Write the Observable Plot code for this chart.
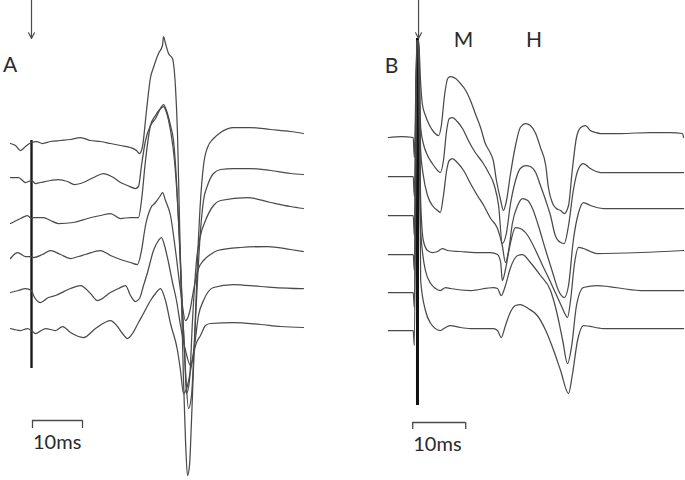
<!DOCTYPE html>
<html><head><meta charset="utf-8">
<script src="https://cdn.jsdelivr.net/npm/d3@7"></script>
<script src="https://cdn.jsdelivr.net/npm/@observablehq/plot@0.6"></script>
<style>
body{margin:0;background:#fff;}
#wrap{display:flex;width:685px;height:480px;overflow:hidden;}
svg{display:block;}
</style></head><body><div id="wrap"></div>
<script>
// ---- Panel A traces: [time (ms after stimulus), deflection (mV)] ----
const A1 = [[-4.2,0],[-3.2,-0.02],[-2.2,-0.07],[-1.2,-0.03],[0,0.01],[1,0.02],[2.2,0],[3.8,0.02],[5.8,0.03],[7.8,0.04],[9.8,0.06],[11.8,0.03],[13.8,0.02],[15.8,0],[17.8,-0.02],[19.8,-0.04],[21,-0.07],[21.6,-0.10],[22.2,-0.03],[23,0.33],[23.8,0.66],[24.4,0.76],[25.4,0.90],[26.2,0.98],[26.4,1.07],[26.8,1.00],[27.4,0.90],[28.2,0.85],[28.4,0.80],[28.8,0.56],[29.2,0.10],[29.6,-0.77],[30,-1.57],[30.4,-2.37],[30.8,-2.97],[31.2,-3.32],[31.6,-3.22],[32,-2.77],[32.6,-1.97],[33.2,-1.17],[33.8,-0.57],[34.4,-0.22],[35.2,-0.04],[36.4,0.05],[37.8,0.11],[40.4,0.16],[43.8,0.16],[47.8,0.14],[51.8,0.12],[54.4,0.10]];
const A2 = [[-4.2,0.03],[-2.6,0.03],[-1.2,-0.02],[0,0],[0.8,-0.03],[1.8,-0.02],[3.8,0],[5.4,0.01],[7.2,-0.01],[8.6,-0.04],[9.8,-0.03],[12.4,0.03],[14.4,0.07],[16.4,0.03],[17.8,-0.02],[19.2,-0.05],[20.8,-0.08],[21.4,-0.06],[22,0.15],[22.8,0.40],[23.8,0.55],[24.8,0.62],[25.8,0.72],[26.4,0.76],[27,0.70],[27.8,0.55],[28.4,0.40],[29,0],[29.6,-0.60],[30.2,-1.30],[30.8,-1.90],[31.4,-2.28],[32,-2.15],[32.6,-1.60],[33.2,-1.00],[33.8,-0.50],[34.4,-0.20],[35.2,-0.05],[36.4,0.07],[37.8,0.11],[40.4,0.12],[43.8,0.12],[47.8,0.10],[51.8,0.07],[54.4,0.06]];
const A3 = [[-4.2,-0.06],[-2.2,-0.01],[-0.8,0.02],[0,-0.01],[0.4,0],[2.4,0],[3.8,-0.03],[5.4,-0.06],[8.4,-0.05],[11.2,-0.01],[13.8,0.02],[15.8,0.04],[17.8,-0.01],[19.8,0],[21.4,0],[22,0.17],[22.8,0.57],[23.8,0.92],[24.8,1.02],[25.8,1.09],[26.4,1.11],[27,1.05],[27.8,0.87],[28.6,0.57],[29.4,-0.03],[30,-0.73],[30.6,-1.33],[31,-1.76],[31.6,-1.63],[32.2,-1.03],[33,-0.43],[33.8,-0.18],[34.8,-0.03],[36.4,0.12],[37.8,0.17],[43.2,0.20],[47.8,0.15],[51.8,0.11],[54.4,0.09]];
const A4 = [[-4.2,-0.05],[-2.8,0.01],[-1.2,-0.03],[0,-0.03],[0.4,-0.04],[2.2,-0.01],[3.8,0.03],[5.8,-0.01],[7.8,-0.05],[9.4,-0.03],[10.8,-0.01],[13.8,0.03],[15.8,-0.02],[17.8,-0.06],[19.8,-0.09],[21.2,-0.11],[22,0.03],[22.8,0.28],[23.8,0.45],[24.8,0.51],[25.8,0.58],[26.2,0.61],[26.8,0.53],[27.8,0.38],[28.8,0.03],[29.8,-0.37],[30.8,-0.67],[31.6,-0.59],[32.4,-0.37],[33.4,-0.15],[34.4,-0.07],[35.8,-0.01],[37.2,0.03],[41.8,0.06],[47.2,0.07],[51.8,0.04],[54.4,0.02]];
const A5 = [[-4.2,-0.02],[-2.6,0],[-1.2,0.02],[0,0],[0.4,-0.05],[1.8,-0.12],[3.4,-0.07],[4.8,-0.05],[7.8,0.02],[9.8,0.05],[11.8,-0.03],[13.2,-0.10],[15.8,-0.02],[17.4,0.02],[18.8,0.05],[19.8,-0.05],[20.8,-0.11],[21.6,-0.08],[22.4,0.05],[23.2,0.18],[24.4,0.40],[25.4,0.50],[26,0.53],[26.6,0.45],[27.4,0.28],[28.2,0.08],[29,-0.10],[29.8,-0.35],[30.8,-0.60],[31.8,-0.75],[32.6,-0.55],[33.4,-0.25],[34.4,-0.10],[36.4,0.03],[40.4,0.06],[45.8,0.04],[53.8,0.02],[54.4,0.02]];
const A6 = [[-4.2,-0.01],[-2.2,-0.03],[-0.8,-0.01],[0,-0.03],[0.8,-0.06],[2.8,-0.01],[4.8,-0.03],[6.2,0.01],[7.8,-0.05],[10.4,-0.10],[12.8,-0.01],[15.8,0.07],[17.2,0.01],[18.2,-0.06],[19.2,-0.11],[20.2,-0.06],[21.4,0.05],[22.4,0.14],[23.8,0.27],[24.8,0.34],[25.8,0.39],[26.8,0.27],[27.8,0.04],[29.2,-0.23],[29.8,-0.43],[30.4,-0.66],[31.2,-0.58],[32,-0.38],[32.8,-0.18],[33.8,-0.08],[34.8,0.02],[35.8,0.04],[40.4,0.05],[45.8,0.03],[49.8,0.01],[54.4,0]];
const offsetsA = [0, -0.37, -0.74, -1.10, -1.47, -1.84];

// ---- Panel B traces ----
const B1 = [[-5.5,0],[-3,0.01],[-0.8,0],[-0.6,-0.2],[-0.1,0.97],[0.2,0.97],[0.6,0.54],[0.9,0.34],[1.5,0.22],[2.1,0.14],[3.0,0.06],[4.0,0.02],[4.5,0.12],[5.1,0.42],[5.7,0.59],[6.2,0.61],[7.2,0.59],[8.1,0.54],[9.1,0.47],[10.0,0.37],[10.9,0.24],[11.9,0.10],[12.8,-0.06],[13.8,-0.16],[14.3,-0.23],[14.9,-0.43],[15.7,-0.63],[16.2,-0.73],[16.8,-0.63],[17.5,-0.38],[18.5,-0.08],[19.4,0.10],[20.4,0.14],[21.3,0.12],[22.3,0.04],[23.2,-0.10],[24.2,-0.28],[24.7,-0.50],[25.5,-0.66],[26.2,-0.71],[27.0,-0.73],[27.7,-0.76],[28.5,-0.68],[29.2,-0.33],[30.0,0.00],[30.8,0.10],[31.7,0.12],[32.6,0.07],[33.6,0.05],[34.5,0.04],[38.3,0.04],[44.0,0.05],[47.7,0.05],[50.0,0.04],[50.2,0.0]];
const B2 = [[-5.5,0],[-3,0],[-0.8,0],[-0.6,-0.2],[-0.1,1.36],[0.2,1.36],[0.6,0.49],[1.1,0.33],[1.9,0.21],[2.8,0.13],[3.8,0.06],[4.3,0.04],[4.9,0.16],[5.5,0.46],[6.0,0.58],[6.6,0.59],[7.5,0.55],[8.5,0.48],[9.6,0.36],[10.9,0.24],[12.3,0.14],[13.4,0.04],[14.5,-0.09],[15.3,-0.29],[16.0,-0.67],[16.8,-0.56],[17.5,-0.29],[18.5,-0.04],[19.4,0.08],[20.4,0.11],[21.3,0.10],[22.3,0.04],[23.2,-0.09],[24.2,-0.24],[25.1,-0.39],[26.0,-0.59],[27.0,-0.66],[27.7,-0.67],[28.5,-0.49],[29.4,-0.14],[30.4,0.08],[31.3,0.13],[32.6,0.08],[34.5,0.04],[42.1,0.04],[50.2,0.04]];
const B3 = [[-5.5,0],[-3,0],[-0.8,0],[-0.6,-0.2],[-0.1,1.75],[0.2,1.75],[0.6,0.65],[1.1,0.40],[1.9,0.20],[2.8,0.10],[3.8,0.05],[4.3,0.03],[4.9,0.20],[5.5,0.45],[6.0,0.55],[6.6,0.57],[7.5,0.53],[8.7,0.45],[10.0,0.32],[11.3,0.20],[12.5,0.10],[13.8,-0.03],[15.1,-0.13],[16.0,-0.30],[16.6,-0.47],[17.2,-0.35],[17.9,-0.08],[18.9,0.10],[19.8,0.17],[20.8,0.15],[21.7,0.07],[22.8,-0.10],[24.2,-0.35],[25.5,-0.57],[26.6,-0.75],[27.7,-0.82],[28.5,-0.70],[29.4,-0.25],[30.4,0.03],[31.3,0.13],[32.6,0.10],[35.1,0.07],[50.2,0.07]];
const B4 = [[-5.5,0],[-3,0],[-0.8,0],[-0.6,-0.16],[-0.1,2.14],[0.2,2.14],[0.6,0.54],[1.1,0.14],[1.9,0.04],[2.8,0.02],[3.8,0.03],[4.7,0.06],[5.7,0.04],[8.1,0.03],[10.9,0.02],[13.8,0.02],[15.1,0.00],[15.7,-0.08],[16.0,-0.26],[16.6,-0.15],[17.4,0.08],[18.5,0.27],[19.4,0.26],[20.8,0.19],[22.3,0.04],[23.6,-0.11],[24.7,-0.23],[26.0,-0.38],[27.2,-0.52],[27.9,-0.60],[28.3,-0.63],[28.9,-0.45],[29.6,-0.10],[30.4,0.07],[31.3,0.06],[32.6,0.03],[33.8,0.01],[42.1,0.02],[50.2,0.04]];
const B5 = [[-5.5,0],[-3,0],[-0.8,0],[-0.6,-0.15],[-0.1,2.52],[0.2,2.52],[0.6,0.62],[1.5,0.22],[2.5,0.09],[3.4,0.04],[4.3,0.02],[5.3,0.05],[6.2,0.04],[10.0,0.02],[14.3,0.05],[15.1,0.04],[15.8,-0.03],[16.6,0.07],[17.5,0.24],[18.9,0.37],[19.8,0.38],[21.3,0.30],[23.2,0.17],[25.1,0.02],[26.2,-0.18],[27.4,-0.48],[28.3,-0.71],[29.1,-0.53],[30.0,-0.13],[31.3,0.05],[33.9,0.07],[42.1,0.02],[50.2,0.02]];
const B6 = [[-5.5,0],[-3,0],[-0.8,0],[-0.6,-0.15],[-0.1,2.90],[0.2,2.90],[0.6,0.50],[1.5,0.20],[2.5,0.07],[4.3,0.00],[5.3,0.03],[6.2,0.05],[8.1,0.03],[10.0,0.02],[14.3,0.02],[15.1,0.00],[15.8,-0.07],[16.6,0.05],[17.5,0.18],[18.5,0.25],[19.4,0.26],[20.9,0.22],[22.6,0.15],[24.2,0.00],[25.7,-0.20],[27.0,-0.40],[28.5,-0.63],[29.2,-0.45],[30.2,-0.10],[31.3,0.05],[35.1,0.02],[50.2,0.02]];
const offsetsB = [0, -0.39, -0.78, -1.17, -1.55, -1.93];

const panelLabels = ["A", "B"];
const componentLabels = ["M", "H"];
const scaleBarMs = 10;
const scaleBarLabel = "10ms";

function rows(traces, offsets) {
  return traces.flatMap((tr, i) => tr.map(([t, v]) => ({t, y: v + offsets[i], trace: i})));
}
const rowsA = rows([A1, A2, A3, A4, A5, A6], offsetsA);
const rowsB = rows([B1, B2, B3, B4, B5, B6], offsetsB);

const font = "Lato, 'Open Sans', sans-serif";
const ink = "#4a4a4a";
const textInk = "#2a2a2a";

function scaleBar(x0, yBar, yTick, yLabel) {
  return [
    Plot.ruleY([0], {x1: x0, x2: x0 + scaleBarMs, y: yBar, stroke: ink, strokeWidth: 1.3}),
    Plot.ruleX([x0, x0 + scaleBarMs], {x: d => d, y1: yBar, y2: yTick, stroke: ink, strokeWidth: 1.3}),
    Plot.text([scaleBarLabel], {x: x0 + 0.1, y: yLabel, text: d => d, textAnchor: "start", fontSize: 20, fill: textInk})
  ];
}

const plotA = Plot.plot({
  width: 343, height: 480, margin: 0,
  x: {domain: [-6.2, 62.4], axis: null},
  y: {domain: [-3.37, 1.43], axis: null},
  style: {fontFamily: font, background: "white", overflow: "visible"},
  marks: [
    Plot.ruleX([0], {y1: 0.03, y2: -2.25, stroke: "#1a1a1a", strokeWidth: 2.4}),
    Plot.line(rowsA, {x: "t", y: "y", z: "trace", stroke: ink, strokeWidth: 1.25, curve: "monotone-x"}),
    Plot.arrow([0], {x1: 0, x2: 0, y1: 1.45, y2: 1.05, stroke: ink, strokeWidth: 1.2, headLength: 8, headAngle: 55, bend: 0}),
    Plot.text([panelLabels[0]], {x: -5.7, y: 0.78, text: d => d, textAnchor: "start", fontSize: 21, fill: textInk}),
    ...scaleBar(0.2, -2.77, -2.85, -2.99)
  ]
});

const plotB = Plot.plot({
  width: 342, height: 480, margin: 0,
  x: {domain: [-13.96, 50.57], axis: null},
  y: {domain: [-3.43, 1.37], axis: null},
  style: {fontFamily: font, background: "white", overflow: "visible"},
  marks: [
    Plot.ruleX([0], {y1: 0.99, y2: -2.68, stroke: "#111", strokeWidth: 3}),
    Plot.line(rowsB, {x: "t", y: "y", z: "trace", stroke: ink, strokeWidth: 1.25, curve: "monotone-x"}),
    Plot.arrow([0], {x1: 0.2, x2: 0.2, y1: 1.39, y2: 0.99, stroke: ink, strokeWidth: 1.2, headLength: 8, headAngle: 55, bend: 0}),
    Plot.text([panelLabels[1]], {x: -6.2, y: 0.71, text: d => d, textAnchor: "start", fontSize: 21, fill: textInk}),
    Plot.text([componentLabels[0]], {x: 8.7, y: 0.97, text: d => d, textAnchor: "middle", fontSize: 21, fill: textInk}),
    Plot.text([componentLabels[1]], {x: 22.0, y: 0.97, text: d => d, textAnchor: "middle", fontSize: 21, fill: textInk}),
    ...scaleBar(-0.9, -2.85, -2.92, -3.07)
  ]
});

const wrap = document.getElementById("wrap");
wrap.appendChild(plotA);
wrap.appendChild(plotB);
</script></body></html>
